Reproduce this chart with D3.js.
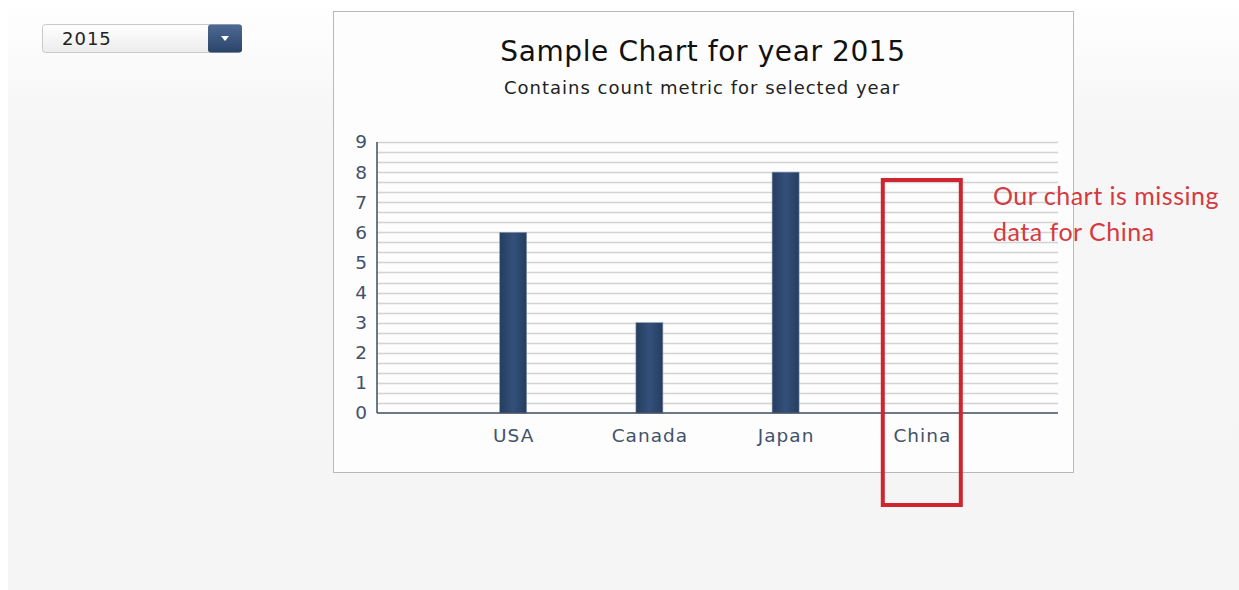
<!DOCTYPE html>
<meta charset="utf-8">
<script src="https://d3js.org/d3.v7.min.js"></script>
<style>
  body { margin: 0; background: #fff; }
  #page { position: absolute; left: 8px; top: 0; width: 1231px; height: 590px;
          background: linear-gradient(#ffffff 0px, #f6f6f6 120px, #f5f5f5 590px); }
</style>
<div id="page"></div>
<svg id="chart" width="1239" height="590" style="position:absolute;left:0;top:0"></svg>
<script>
  // chart data
  var countries = ["USA", "Canada", "Japan", "China"];
  var counts = [6, 3, 8, null];   // China has no value
  var yTicks = [0, 1, 2, 3, 4, 5, 6, 7, 8, 9];
  var selectedYear = "2015";

  var font = "Verdana, 'DejaVu Sans', sans-serif";
  var svg = d3.select("#chart");
  var defs = svg.append("defs");

  var barGrad = defs.append("linearGradient").attr("id", "barGrad")
      .attr("x1", "0").attr("x2", "1").attr("y1", "0").attr("y2", "0");
  barGrad.append("stop").attr("offset", "0").attr("stop-color", "#253d60");
  barGrad.append("stop").attr("offset", "0.5").attr("stop-color", "#34507a");
  barGrad.append("stop").attr("offset", "1").attr("stop-color", "#253d60");

  var btnGrad = defs.append("linearGradient").attr("id", "btnGrad")
      .attr("x1", "0").attr("x2", "0").attr("y1", "0").attr("y2", "1");
  btnGrad.append("stop").attr("offset", "0").attr("stop-color", "#4d6a93");
  btnGrad.append("stop").attr("offset", "1").attr("stop-color", "#2b4469");

  var selGrad = defs.append("linearGradient").attr("id", "selGrad")
      .attr("x1", "0").attr("x2", "0").attr("y1", "0").attr("y2", "1");
  selGrad.append("stop").attr("offset", "0").attr("stop-color", "#ffffff");
  selGrad.append("stop").attr("offset", "1").attr("stop-color", "#ececec");

  // year dropdown
  var dd = svg.append("g").attr("transform", "translate(42,24)");
  dd.append("rect").attr("x", 0.5).attr("y", 0.5).attr("width", 199).attr("height", 28).attr("rx", 3)
      .attr("fill", "url(#selGrad)").attr("stroke", "#c9c9c9");
  dd.append("rect").attr("x", 166).attr("y", 0.5).attr("width", 34).attr("height", 28).attr("rx", 3)
      .attr("fill", "url(#btnGrad)");
  dd.append("path").attr("d", "M179,12 L187,12 L183,17 Z").attr("fill", "#fff");
  dd.append("text").attr("x", 20).attr("y", 21).attr("font-family", font)
      .attr("font-size", 18).attr("letter-spacing", 1).attr("fill", "#222").text(selectedYear);

  // panel
  svg.append("rect").attr("x", 333.5).attr("y", 11.5).attr("width", 740).attr("height", 461)
      .attr("fill", "#fdfdfd").attr("stroke", "#b9b9b9");

  svg.append("text").attr("x", 703).attr("y", 61).attr("text-anchor", "middle")
      .attr("font-family", font).attr("font-size", 28).attr("letter-spacing", 0.6).attr("fill", "#111")
      .text("Sample Chart for year " + selectedYear);
  svg.append("text").attr("x", 702).attr("y", 94).attr("text-anchor", "middle")
      .attr("font-family", font).attr("font-size", 18).attr("letter-spacing", 1).attr("fill", "#222")
      .text("Contains count metric for selected year");

  var plotL = 377, plotR = 1058, plotT = 142, plotB = 413;

  var x = d3.scalePoint().domain(countries).range([plotL, plotR]).padding(1);
  var y = d3.scaleLinear().domain([0, 9]).range([plotB, plotT]);

  // grid, every third of a unit
  var gridVals = d3.range(1, 28).map(function (i) { return i / 3; });
  svg.append("g").selectAll("line").data(gridVals).join("line")
      .attr("x1", plotL).attr("x2", plotR)
      .attr("y1", function (d) { return Math.round(y(d)) + 0.5; })
      .attr("y2", function (d) { return Math.round(y(d)) + 0.5; })
      .attr("stroke", "#d3d3d3").attr("stroke-width", 1.5);

  // bars
  var data = countries.map(function (c, i) { return { name: c, value: counts[i] }; });
  var barW = 27;
  svg.append("g").selectAll("rect").data(data.filter(function (d) { return d.value != null; })).join("rect")
      .attr("x", function (d) { return x(d.name) - barW / 2; })
      .attr("y", function (d) { return y(d.value); })
      .attr("width", barW)
      .attr("height", function (d) { return y(0) - y(d.value); })
      .attr("fill", "url(#barGrad)").attr("stroke", "#8a9bb3").attr("stroke-width", 0.6);

  // axes
  var yAxis = svg.append("g").attr("transform", "translate(" + plotL + ",0)")
      .call(d3.axisLeft(y).tickValues(yTicks).tickSize(0).tickPadding(9));
  var xAxis = svg.append("g").attr("transform", "translate(0," + plotB + ")")
      .call(d3.axisBottom(x).tickSize(0).tickPadding(16));
  [yAxis, xAxis].forEach(function (a) {
    a.select(".domain").attr("stroke", "#3d4b60").attr("stroke-width", 1.5);
    a.selectAll("text").attr("font-family", font)
        .attr("font-size", 18.5).attr("letter-spacing", 1).attr("fill", "#43526b");
  });
  yAxis.select(".domain").attr("d", "M0," + plotT + "V" + plotB);
  xAxis.select(".domain").attr("d", "M" + plotL + ",0H" + plotR);

  // annotation
  svg.append("rect").attr("x", x("China") - 39).attr("y", 180).attr("width", 78).attr("height", 325)
      .attr("fill", "none").attr("stroke", "#cf2530").attr("stroke-width", 4);
  var note = svg.append("text").attr("font-family", "Lato, 'Open Sans', sans-serif")
      .attr("font-size", 25).attr("letter-spacing", 0.5).attr("fill", "#d43a40");
  note.append("tspan").attr("x", 993).attr("y", 205).text("Our chart is missing");
  note.append("tspan").attr("x", 993).attr("y", 241).text("data for China");
</script>
